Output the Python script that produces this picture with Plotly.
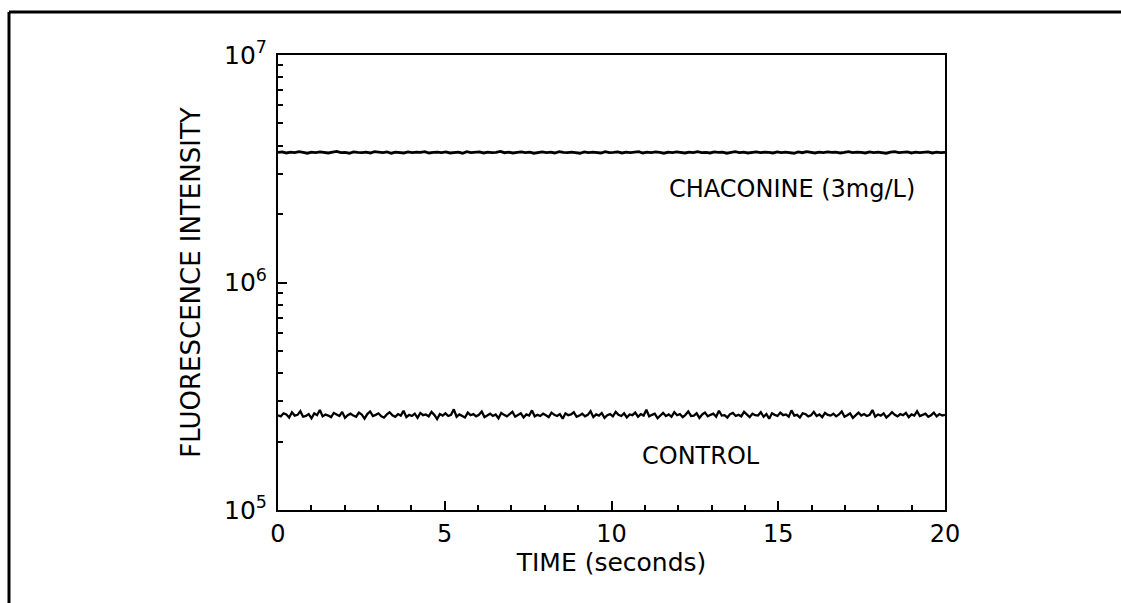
import numpy as np
import plotly.graph_objects as go

# ---- data ----
time_range = [0, 20]
x_tick_vals = [0, 5, 10, 15, 20]
x_tick_text = ["0", "5", "10", "15", "20"]
y_tick_vals = [1e5, 1e6, 1e7]
y_tick_text = ["10<sup>5</sup>", "10<sup>6</sup>", "10<sup>7</sup>"]

# CONTROL trace (units of 1e5)
control_e5 = [
    2.61, 2.58, 2.66, 2.63, 2.55, 2.69, 2.60, 2.62, 2.72, 2.57, 2.59, 2.64, 2.53, 2.66, 2.61, 2.75, 2.58, 2.63, 2.60, 2.56,
    2.67, 2.62, 2.59, 2.70, 2.54, 2.61, 2.65, 2.60, 2.57, 2.68, 2.63, 2.52, 2.64, 2.71, 2.59, 2.62, 2.66, 2.58, 2.55, 2.63,
    2.69, 2.61, 2.57, 2.64, 2.60, 2.73, 2.56, 2.62, 2.59, 2.65, 2.54, 2.67, 2.61, 2.63, 2.58, 2.70, 2.62, 2.51, 2.64, 2.60,
    2.66, 2.59, 2.62, 2.77, 2.57, 2.63, 2.60, 2.55, 2.68, 2.61, 2.64, 2.58, 2.62, 2.71, 2.56, 2.60, 2.65, 2.59, 2.63, 2.53,
    2.67, 2.62, 2.58, 2.64, 2.70, 2.57, 2.61, 2.66, 2.55, 2.63, 2.60, 2.74, 2.58, 2.62, 2.59, 2.65, 2.61, 2.56, 2.68, 2.62,
    2.59, 2.64, 2.52, 2.66, 2.61, 2.63, 2.69, 2.57, 2.60, 2.65, 2.58, 2.62, 2.72, 2.56, 2.63, 2.60, 2.67, 2.54, 2.61, 2.64,
    2.58, 2.70, 2.62, 2.59, 2.66, 2.55, 2.63, 2.61, 2.68, 2.57, 2.64, 2.60, 2.76, 2.58, 2.62, 2.65, 2.53, 2.61, 2.67, 2.59,
    2.63, 2.57, 2.69, 2.61, 2.64, 2.56, 2.62, 2.71, 2.59, 2.60, 2.66, 2.54, 2.63, 2.68, 2.58, 2.62, 2.65, 2.57, 2.73, 2.60,
    2.61, 2.55, 2.64, 2.67, 2.59, 2.62, 2.58, 2.70, 2.63, 2.56, 2.65, 2.61, 2.60, 2.69, 2.57, 2.64, 2.52, 2.66, 2.62, 2.59,
    2.68, 2.61, 2.63, 2.57, 2.74, 2.60, 2.62, 2.55, 2.66, 2.64, 2.58, 2.61, 2.70, 2.59, 2.63, 2.56, 2.67, 2.62, 2.60, 2.65,
    2.58, 2.63, 2.71, 2.57, 2.61, 2.66, 2.54, 2.62, 2.68, 2.60, 2.64, 2.59, 2.62, 2.75, 2.57, 2.63, 2.60, 2.66, 2.55, 2.61,
    2.69, 2.62, 2.58, 2.64, 2.61, 2.67, 2.56, 2.63, 2.60, 2.72, 2.59, 2.62, 2.65, 2.57, 2.61, 2.68, 2.58, 2.64, 2.60, 2.62,
]

# CHACONINE (3mg/L) trace (units of 1e6)
chaconine_e6 = [
    3.73, 3.75, 3.71, 3.74, 3.72, 3.76, 3.73, 3.70, 3.74, 3.72, 3.75, 3.73, 3.71, 3.74, 3.77, 3.72, 3.73, 3.70, 3.75, 3.73,
    3.72, 3.74, 3.71, 3.76, 3.73, 3.72, 3.75, 3.70, 3.74, 3.73, 3.71, 3.75, 3.72, 3.74, 3.73, 3.76, 3.71, 3.73, 3.74, 3.72,
    3.75, 3.71, 3.73, 3.74, 3.70, 3.76, 3.72, 3.73, 3.75, 3.71, 3.74, 3.72, 3.73, 3.77, 3.72, 3.74, 3.71, 3.73, 3.75, 3.72,
    3.74, 3.70, 3.73, 3.75, 3.72, 3.74, 3.71, 3.76, 3.73, 3.72, 3.74, 3.73, 3.70, 3.75, 3.72, 3.74, 3.73, 3.71, 3.76, 3.72,
    3.73, 3.75, 3.71, 3.74, 3.72, 3.73, 3.76, 3.71, 3.74, 3.72, 3.75, 3.73, 3.70, 3.74, 3.72, 3.75, 3.73, 3.71, 3.74, 3.72,
    3.76, 3.72, 3.73, 3.71, 3.75, 3.73, 3.74, 3.70, 3.73, 3.76, 3.72, 3.74, 3.71, 3.73, 3.75, 3.72, 3.74, 3.73, 3.71, 3.75,
    3.72, 3.74, 3.73, 3.70, 3.75, 3.72, 3.76, 3.73, 3.71, 3.74, 3.72, 3.75, 3.73, 3.74, 3.71, 3.73, 3.76, 3.72, 3.74, 3.73,
    3.71, 3.75, 3.72, 3.74, 3.73, 3.70, 3.74, 3.76, 3.72, 3.73, 3.75, 3.71, 3.74, 3.72, 3.73, 3.75, 3.71, 3.74, 3.72, 3.73,
]

control = np.array(control_e5) * 1e5
chaconine = np.array(chaconine_e6) * 1e6
t_control = np.linspace(time_range[0], time_range[1], len(control))
t_chaconine = np.linspace(time_range[0], time_range[1], len(chaconine))

minor_y = [k * 10.0 ** d for d in (5, 6) for k in range(2, 10)]

# ---- layout geometry (pixels) ----
W, H = 1121, 603
L, R, T, B = 278, 945, 55, 510
pw, ph = R - L, B - T


def px(x):
    return (x - L) / pw


def py(y):
    return (B - y) / ph


FONT = "DejaVu Sans"

fig = go.Figure()
fig.add_trace(go.Scatter(x=t_chaconine, y=chaconine, mode="lines",
                         line=dict(color="black", width=2.8), showlegend=False,
                         name="CHACONINE (3mg/L)"))
fig.add_trace(go.Scatter(x=t_control, y=control, mode="lines",
                         line=dict(color="black", width=2.3), showlegend=False,
                         name="CONTROL"))

fig.update_layout(
    width=W, height=H,
    margin=dict(l=L, r=W - R, t=T, b=H - B),
    paper_bgcolor="white", plot_bgcolor="white",
    font=dict(family=FONT, color="black", size=22),
    xaxis=dict(
        range=time_range, tickvals=x_tick_vals, ticktext=x_tick_text,
        ticks="inside", ticklen=9, tickwidth=2, tickcolor="black",
        minor=dict(dtick=1, ticks="inside", ticklen=5, tickwidth=1.5, tickcolor="black", showgrid=False),
        showline=True, linecolor="black", linewidth=2, mirror=True,
        showgrid=False, zeroline=False,
        tickfont=dict(size=24), ticklabelstandoff=1,
        title=dict(text="TIME (seconds)", font=dict(size=25), standoff=2),
    ),
    yaxis=dict(
        type="log", range=[5, 7], tickvals=y_tick_vals, ticktext=y_tick_text,
        ticks="inside", ticklen=9, tickwidth=2, tickcolor="black",
        minor=dict(tickvals=minor_y, ticks="inside", ticklen=5, tickwidth=1.5, tickcolor="black", showgrid=False),
        showline=True, linecolor="black", linewidth=2, mirror=True,
        showgrid=False, zeroline=False,
        tickfont=dict(size=25), ticklabelstandoff=4,
        title=dict(text="FLUORESCENCE INTENSITY", font=dict(size=26), standoff=16),
    ),
    annotations=[
        dict(text="CHACONINE (3mg/L)", xref="paper", yref="paper", x=px(792), y=py(189),
             showarrow=False, font=dict(size=24), xanchor="center", yanchor="middle"),
        dict(text="CONTROL", xref="paper", yref="paper", x=px(701), y=py(456),
             showarrow=False, font=dict(size=24), xanchor="center", yanchor="middle"),
    ],
    shapes=[
        # outer frame of the figure (left and top border)
        dict(type="line", xref="paper", yref="paper", x0=px(9), x1=px(9), y0=py(12), y1=py(603),
             line=dict(color="black", width=3)),
        dict(type="line", xref="paper", yref="paper", x0=px(9), x1=px(1121), y0=py(12), y1=py(12),
             line=dict(color="black", width=3)),
    ],
)

fig.write_html("out.html")
